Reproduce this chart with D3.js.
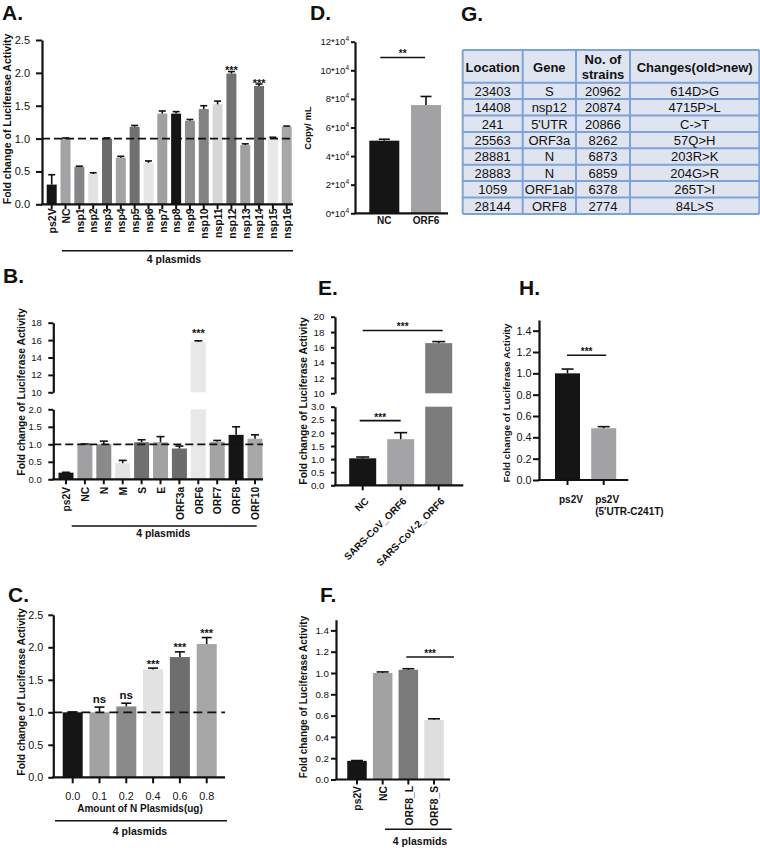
<!DOCTYPE html>
<html><head><meta charset="utf-8">
<script src="https://cdn.jsdelivr.net/npm/d3@7"></script>
<style>
body{margin:0;background:#fff;}
svg text{font-family:"Liberation Sans",Arial,Helvetica,sans-serif;}
</style></head><body>
<svg id="c" width="760" height="848"></svg>
<script>
// ---------------- DATA ----------------
// Panel A
const aCategories = ["ps2V","NC","nsp1","nsp2","nsp3","nsp4","nsp5","nsp6","nsp7","nsp8","nsp9","nsp10","nsp11","nsp12","nsp13","nsp14","nsp15","nsp16"];
const aValues = [0.30,1.00,0.57,0.46,1.00,0.71,1.18,0.63,1.38,1.38,1.27,1.45,1.52,1.99,0.90,1.80,1.01,1.18];
const aErrors = [0.15,0.01,0.01,0.02,0.01,0.02,0.02,0.03,0.04,0.03,0.02,0.05,0.05,0.03,0.02,0.03,0.01,0.01];
const aColors = ["#151515","#a3a3a5","#858587","#e2e2e2","#6c6c6c","#a3a3a3","#707070","#e6e6e6","#a0a0a0","#151515","#8e8e8e","#838383","#d6d6d6","#727272","#a0a0a0","#6e6e6e","#e8e8e8","#a8a8a8"];
const aSig = ["","","","","","","","","","","","","","***","","***","",""];
const aTicks = [0,0.5,1,1.5,2,2.5];

// Panel B
const bCategories = ["ps2V","NC","N","M","S","E","ORF3a","ORF6","ORF7","ORF8","ORF10"];
const bValues = [0.19,1.00,1.00,0.46,1.06,1.06,0.88,15.80,1.07,1.27,1.16];
const bErrors = [0.01,0.01,0.09,0.08,0.07,0.16,0.07,0.12,0.04,0.23,0.11];
const bColors = ["#151515","#a0a0a2","#8a8a8a","#e4e4e4","#707070","#a2a2a2","#6c6c6c","#e8e8e8","#a4a4a4","#151515","#a8a8a8"];
const bSig = ["","","","","","","","***","","",""];
const bTicksLow = [0,0.5,1,1.5,2];
const bTicksHigh = [10,12,14,16,18];

// Panel C
const cCategories = ["0.0","0.1","0.2","0.4","0.6","0.8"];
const cValues = [1.00,1.00,1.09,1.66,1.85,2.05];
const cErrors = [0.005,0.08,0.05,0.02,0.08,0.10];
const cColors = ["#151515","#a2a2a2","#8a8a8a","#e2e2e2","#6e6e6e","#a6a6a6"];
const cSig = ["","ns","ns","***","***","***"];
const cTicks = [0,0.5,1,1.5,2,2.5];

// Panel D (copies, units of 10^4)
const dCategories = ["NC","ORF6"];
const dValues = [5.08,7.57];
const dErrors = [0.10,0.60];
const dColors = ["#151515","#a2a2a4"];
const dTicks = [0,2,4,6,8,10,12];
const dSigLevel = 10.9;

// Panel E
const eCategories = ["NC","SARS-CoV_ORF6","SARS-CoV-2_ORF6"];
const eValues = [1.03,1.76,16.55];
const eErrors = [0.05,0.25,0.2];
const eColors = ["#151515","#a4a4a6","#7c7c7c"];
const eTicksLow = [0,0.5,1,1.5,2,2.5,3];
const eTicksHigh = [10,12,14,16,18,20];
const eSigLow = 2.47, eSigHigh = 18.2;

// Panel F
const fCategories = ["ps2V","NC","ORF8_L","ORF8_S"];
const fValues = [0.175,1.00,1.03,0.56];
const fErrors = [0.003,0.01,0.01,0.01];
const fColors = ["#151515","#a2a2a2","#7a7a7a","#dedede"];
const fTicks = [0,0.2,0.4,0.6,0.8,1.0,1.2,1.4];
const fSigLevel = 1.15;

// Panel G (table)
const gHeaders = [["Location"],["Gene"],["No. of","strains"],["Changes(old>new)"]];
const gLocation = ["23403","14408","241","25563","28881","28883","1059","28144"];
const gGene = ["S","nsp12","5'UTR","ORF3a","N","N","ORF1ab","ORF8"];
const gStrains = ["20962","20874","20866","8262","6873","6859","6378","2774"];
const gChanges = ["614D>G","4715P>L","C->T","57Q>H","203R>K","204G>R","265T>I","84L>S"];

// Panel H
const hCategories = ["ps2V","ps2V (5'UTR-C241T)"];
const hLabelLines = [["ps2V"],["ps2V","(5'UTR-C241T)"]];
const hValues = [1.00,0.485];
const hErrors = [0.04,0.015];
const hColors = ["#151515","#a2a2a4"];
const hTicks = [0,0.2,0.4,0.6,0.8,1.0,1.2,1.4];
const hSigLevel = 1.17;

// ---------------- DRAWING ----------------
const svg = d3.select("#c");
const FONT = '"Liberation Sans", Arial, Helvetica, sans-serif';
const INK = "#111";

function bandScale(cats, c0, c1, bw) {
  const n = cats.length;
  const step = (c1 - c0) / (n - 1);
  const p = 1 - bw / step;
  const l = c0 - step * (1 + p) / 2;
  return d3.scaleBand().domain(cats).range([l, l + step * (n + p)]).paddingInner(p).paddingOuter(p);
}

function panelLabel(t, x, y) {
  svg.append("text").attr("x", x).attr("y", y).attr("font-size", 21).attr("font-weight", "bold")
    .attr("fill", INK).text(t);
}

function yTitle(t, x, cy, fs) {
  svg.append("text").attr("transform", `translate(${x},${cy}) rotate(-90)`)
    .attr("text-anchor", "middle").attr("font-size", fs).attr("font-weight", "bold").attr("fill", INK).text(t);
}

function yAxis(scale, x, ticks, fmt, fs, tick, pad, cls) {
  const ax = d3.axisLeft(scale).tickValues(ticks).tickSize(tick).tickPadding(pad).tickSizeOuter(0).tickFormat(fmt);
  const ag = svg.append("g").attr("class", cls || "yaxis").attr("transform", `translate(${x},0)`).call(ax);
  ag.select(".domain").attr("stroke", INK).attr("stroke-width", 2.2);
  ag.selectAll(".tick line").attr("stroke", INK).attr("stroke-width", 2);
  ag.selectAll(".tick text").attr("font-size", fs).attr("fill", INK).attr("font-family", FONT);
  return ag;
}

function starText(txt, x, cy, fs, serif) {
  const t = svg.append("text").attr("x", x).attr("text-anchor", "middle").attr("font-size", fs)
    .attr("font-weight", "bold").attr("fill", INK).text(txt);
  if (serif) { t.attr("font-family", '"Liberation Serif","DejaVu Serif",serif').attr("y", cy + 0.26 * fs); }
  else t.attr("y", cy + 0.6 * fs);
}

function sigLine(x1, x2, y, txt, fs) {
  svg.append("line").attr("x1", x1).attr("x2", x2).attr("y1", y).attr("y2", y)
    .attr("stroke", INK).attr("stroke-width", 1.6);
  starText(txt, (x1 + x2) / 2, y - 6, fs);
}

function barPanel(o) {
  const g = svg.append("g");
  const x = o.x, yL = o.yL, yH = o.yH, lowMax = (o.lowMax === undefined) ? Infinity : o.lowMax;
  const data = o.cats.map((c, i) => ({c, i, v: o.vals[i], e: o.errs[i], col: o.colors[i], sig: o.sig ? o.sig[i] : ""}));
  const yf = v => (yH && v > lowMax) ? yH(v) : yL(v);
  const cx = d => x(d.c) + x.bandwidth() / 2;
  const y0 = yL(0);

  g.append("g").selectAll("rect").data(data).join("rect")
    .attr("x", d => x(d.c)).attr("width", x.bandwidth())
    .attr("y", d => yL(Math.min(d.v, lowMax)))
    .attr("height", d => y0 - yL(Math.min(d.v, lowMax)))
    .attr("fill", d => d.col);
  if (yH) {
    g.append("g").selectAll("rect").data(data.filter(d => d.v > lowMax)).join("rect")
      .attr("x", d => x(d.c)).attr("width", x.bandwidth())
      .attr("y", d => yH(d.v)).attr("height", d => yH(o.highMin) - yH(d.v))
      .attr("fill", d => d.col);
  }
  // error bars (upper half)
  const eg = g.append("g").attr("stroke", INK).attr("stroke-width", 1.6);
  eg.selectAll("line.v").data(data).join("line").attr("class", "v")
    .attr("x1", cx).attr("x2", cx).attr("y1", d => yf(d.v)).attr("y2", d => yf(d.v + d.e));
  eg.selectAll("line.c").data(data).join("line").attr("class", "c")
    .attr("x1", d => cx(d) - o.cap / 2).attr("x2", d => cx(d) + o.cap / 2)
    .attr("y1", d => yf(d.v + d.e)).attr("y2", d => yf(d.v + d.e));

  // reference dashed line
  if (o.ref !== undefined) {
    svg.append("line").attr("x1", o.axisX).attr("x2", o.xEnd).attr("y1", yL(o.ref)).attr("y2", yL(o.ref))
      .attr("stroke", INK).attr("stroke-width", 1.8).attr("stroke-dasharray", o.dash || "8,4");
  }

  // x axis
  const xa = svg.append("g").attr("transform", `translate(0,${y0})`)
    .call(d3.axisBottom(x).tickSize(o.xTick === undefined ? 5 : o.xTick).tickSizeOuter(0).tickFormat(""));
  xa.select(".domain").remove();
  xa.selectAll(".tick line").attr("stroke", INK).attr("stroke-width", 2);
  svg.append("line").attr("x1", o.axisX - 1).attr("x2", o.xEnd).attr("y1", y0).attr("y2", y0)
    .attr("stroke", INK).attr("stroke-width", 2.2);

  // y axes
  yAxis(yL, o.axisX, o.ticksL, o.fmtL, o.tfs, o.yTick || 5, o.yPad || 6, o.axisClass);
  if (yH) yAxis(yH, o.axisX, o.ticksH, o.fmtH, o.tfs, o.yTick || 5, o.yPad || 6, o.axisClass);

  // x labels
  if (o.labMode !== "none") {
    const lab = svg.append("g").attr("font-weight", "bold").attr("font-size", o.lfs).attr("fill", INK);
    data.forEach(d => {
      const t = lab.append("text").text(d.c);
      if (o.labMode === "v") {
        t.attr("transform", `translate(${cx(d) + 0.5},${y0 + o.labOff}) rotate(-90)`).attr("text-anchor", "end").attr("dy", "0.36em");
      } else if (o.labMode === "d") {
        t.attr("transform", `translate(${cx(d) + o.labDx},${y0 + o.labOff}) rotate(-45)`).attr("text-anchor", "end").attr("dy", "0.36em");
      } else {
        t.attr("x", cx(d)).attr("y", y0 + o.labOff).attr("text-anchor", "middle");
        if (o.labBold === false) t.attr("font-weight", "normal");
      }
    });
  }

  // significance above bars
  data.forEach(d => {
    if (!d.sig) return;
    const top = yf(d.v + d.e);
    if (d.sig === "ns") starText("ns", cx(d), top - o.sigGap, o.nsfs || 11.5, true);
    else starText(d.sig, cx(d), top - o.sigGap, o.sfs || 11);
  });
  return {x, y0};
}

function groupLine(x1, x2, y, tx, ty, fs) {
  svg.append("line").attr("x1", x1).attr("x2", x2).attr("y1", y).attr("y2", y).attr("stroke", INK).attr("stroke-width", 1.6);
  svg.append("text").attr("x", tx).attr("y", ty).attr("text-anchor", "middle").attr("font-size", fs)
    .attr("font-weight", "bold").attr("fill", INK).text("4 plasmids");
}

const f1 = d3.format(".1f");

// ----- Panel A -----
panelLabel("A.", 2, 20);
barPanel({
  cats: aCategories, vals: aValues, errs: aErrors, colors: aColors, sig: aSig,
  x: bandScale(aCategories, 51.7, 286.7, 10),
  yL: d3.scaleLinear().domain([0, 2.5]).range([204.3, 40]),
  ticksL: aTicks, fmtL: f1, tfs: 11, yTick: 6, yPad: 6,
  axisX: 42, xEnd: 293, ref: 1, cap: 7, labMode: "v", labOff: 4, lfs: 10.5, sigGap: 4, sfs: 11
});
yTitle("Fold change of Luciferase Activity", 10.5, 119, 10.5);
groupLine(62, 293, 250.7, 174, 263, 10.5);

// ----- Panel B -----
panelLabel("B.", 3, 283);
barPanel({
  cats: bCategories, vals: bValues, errs: bErrors, colors: bColors, sig: bSig,
  x: bandScale(bCategories, 66, 255, 15),
  yL: d3.scaleLinear().domain([0, 2]).range([479.3, 409.3]),
  yH: d3.scaleLinear().domain([10, 18]).range([392.3, 322.7]),
  lowMax: 2, highMin: 10,
  ticksL: bTicksLow, fmtL: f1, ticksH: bTicksHigh, fmtH: d3.format("d"), tfs: 9.5, yTick: 5, yPad: 6.5,
  axisX: 53.3, xEnd: 263, ref: 1, cap: 8, labMode: "v", labOff: 7.5, lfs: 10.3, sigGap: 10, sfs: 11
});
yTitle("Fold change of Luciferase Activity", 24.5, 392, 10.3);
groupLine(71.7, 256.7, 526, 163.3, 537, 10.5);

// ----- Panel C -----
panelLabel("C.", 8, 602);
barPanel({
  cats: cCategories, vals: cValues, errs: cErrors, colors: cColors, sig: cSig,
  x: bandScale(cCategories, 72.7, 206.7, 20),
  yL: d3.scaleLinear().domain([0, 2.5]).range([777.3, 614.8]),
  ticksL: cTicks, fmtL: f1, tfs: 10.8, yTick: 5, yPad: 5,
  axisX: 53.3, xEnd: 225, ref: 1, dash: "9,5", cap: 10, xTick: 6,
  labMode: "h", labBold: false, labOff: 23, lfs: 10.8, sigGap: 7, sfs: 11, nsfs: 11.5
});
yTitle("Fold change of Luciferase Activity", 24.5, 692, 10.3);
svg.append("text").attr("x", 140).attr("y", 812).attr("text-anchor", "middle").attr("font-size", 10)
  .attr("font-weight", "bold").attr("fill", INK).text("Amount of N Plasmids(ug)");
groupLine(55, 227, 820.7, 140, 834.5, 10.5);

// ----- Panel D -----
panelLabel("D.", 310, 20);
const dX = bandScale(dCategories, 384.3, 426, 30);
const dY = d3.scaleLinear().domain([0, 12]).range([213.3, 41.7]);
barPanel({
  cats: dCategories, vals: dValues, errs: dErrors, colors: dColors,
  x: dX, yL: dY, ticksL: dTicks, fmtL: d3.format("d"), tfs: 9.5, yTick: 4, yPad: 2, axisClass: "yaxis-d",
  axisX: 355, xEnd: 448, cap: 11, xTick: 0, labMode: "h", labOff: 11, lfs: 10
});
// superscript exponent on D tick labels
svg.selectAll("g.yaxis-d .tick text").each(function (d) {
  const t = d3.select(this); t.text(null);
  t.append("tspan").text(d + "*10");
  t.append("tspan").attr("dy", -4).attr("font-size", 6.5).text("4");
});
yTitle("Copy/ mL", 311, 128, 9.5);
sigLine(dX("NC") + 11, dX("ORF6") + 14, dY(dSigLevel), "**", 10);

// ----- Panel E -----
panelLabel("E.", 318, 295);
const eX = bandScale(eCategories, 362.7, 438.7, 27);
const eYL = d3.scaleLinear().domain([0, 3]).range([485.3, 406.7]);
const eYH = d3.scaleLinear().domain([10, 20]).range([393.3, 316.7]);
barPanel({
  cats: eCategories, vals: eValues, errs: eErrors, colors: eColors,
  x: eX, yL: eYL, yH: eYH, lowMax: 3, highMin: 10,
  ticksL: eTicksLow, fmtL: f1, ticksH: eTicksHigh, fmtH: d3.format("d"), tfs: 9.8, yTick: 4, yPad: 6.5,
  axisX: 335, xEnd: 463.3, cap: 13, labMode: "d", labDx: 4, labOff: 14, lfs: 10
});
yTitle("Fold change of Luciferase Activity", 307, 401, 10.3);
sigLine(eX("NC") + 13.5, eX("SARS-CoV-2_ORF6") + 17.5, eYH(eSigHigh), "***", 10);
sigLine(eX("NC") + 10.5, eX("SARS-CoV_ORF6") + 13.5, eYL(eSigLow), "***", 10);

// ----- Panel F -----
panelLabel("F.", 320, 602);
const fX = bandScale(fCategories, 357, 434, 19.5);
const fY = d3.scaleLinear().domain([0, 1.5]).range([779.5, 619.75]);
barPanel({
  cats: fCategories, vals: fValues, errs: fErrors, colors: fColors,
  x: fX, yL: fY, ticksL: fTicks, fmtL: f1, tfs: 9.8, yTick: 5, yPad: 2,
  axisX: 336, xEnd: 450, cap: 12, labMode: "v", labOff: 6.5, lfs: 10.3
});
yTitle("Fold change of Luciferase Activity", 307, 697, 10);
sigLine(fX("ORF8_L") + 7.7, fX("ORF8_S") + 29.7, fY(fSigLevel), "***", 10);
groupLine(385, 451.7, 829.3, 420, 845, 10.5);

// ----- Panel G (table) -----
panelLabel("G.", 461, 21);
const colEdges = [462.7, 522.7, 576, 630, 759.3];
const headTop = 50, headBot = 82.7, rowH = 16.4;
const tg = svg.append("g");
const rows = gLocation.map((loc, i) => [loc, gGene[i], gStrains[i], gChanges[i]]);
tg.append("rect").attr("x", colEdges[0]).attr("y", headTop).attr("width", colEdges[4] - colEdges[0])
  .attr("height", headBot - headTop + rowH * rows.length).attr("fill", "#dfe4f1");
const gridStroke = "#7fa2da";
[headTop, headBot].concat(rows.map((r, i) => headBot + rowH * (i + 1))).forEach(y => {
  tg.append("line").attr("x1", colEdges[0]).attr("x2", colEdges[4]).attr("y1", y).attr("y2", y)
    .attr("stroke", gridStroke).attr("stroke-width", 2);
});
colEdges.forEach(x => {
  tg.append("line").attr("x1", x).attr("x2", x).attr("y1", headTop).attr("y2", headBot + rowH * rows.length)
    .attr("stroke", gridStroke).attr("stroke-width", 2);
});
gHeaders.forEach((lines, j) => {
  const cxx = (colEdges[j] + colEdges[j + 1]) / 2;
  lines.forEach((ln, k) => {
    const yy = lines.length === 1 ? 71.5 : 64 + k * 15;
    tg.append("text").attr("x", cxx).attr("y", yy).attr("text-anchor", "middle").attr("font-size", 13)
      .attr("font-weight", "bold").attr("fill", INK).text(ln);
  });
});
rows.forEach((r, i) => {
  r.forEach((val, j) => {
    tg.append("text").attr("x", (colEdges[j] + colEdges[j + 1]) / 2).attr("y", headBot + rowH * i + 13)
      .attr("text-anchor", "middle").attr("font-size", 13).attr("fill", INK).text(val);
  });
});

// ----- Panel H -----
panelLabel("H.", 519, 295);
const hX = bandScale(hCategories, 567.5, 603.7, 25);
const hY = d3.scaleLinear().domain([0, 1.5]).range([480, 320]);
barPanel({
  cats: hCategories, vals: hValues, errs: hErrors, colors: hColors,
  x: hX, yL: hY, ticksL: hTicks, fmtL: f1, tfs: 10.8, yTick: 6, yPad: 1.5,
  axisX: 539, xEnd: 628.3, cap: 12, labMode: "none"
});
hCategories.forEach((c, i) => {
  hLabelLines[i].forEach((ln, k) => {
    svg.append("text").attr("x", hX(c) + hX.bandwidth() / 2 - 8.5).attr("y", 503 + k * 11.5)
      .attr("font-size", 10).attr("font-weight", "bold").attr("fill", INK).text(ln);
  });
});
yTitle("Fold change of Luciferase Activity", 509.5, 403, 9.8);
sigLine(hX(hCategories[0]) + 12, hX(hCategories[1]) + 15, hY(hSigLevel), "***", 10);
</script>
</body></html>
